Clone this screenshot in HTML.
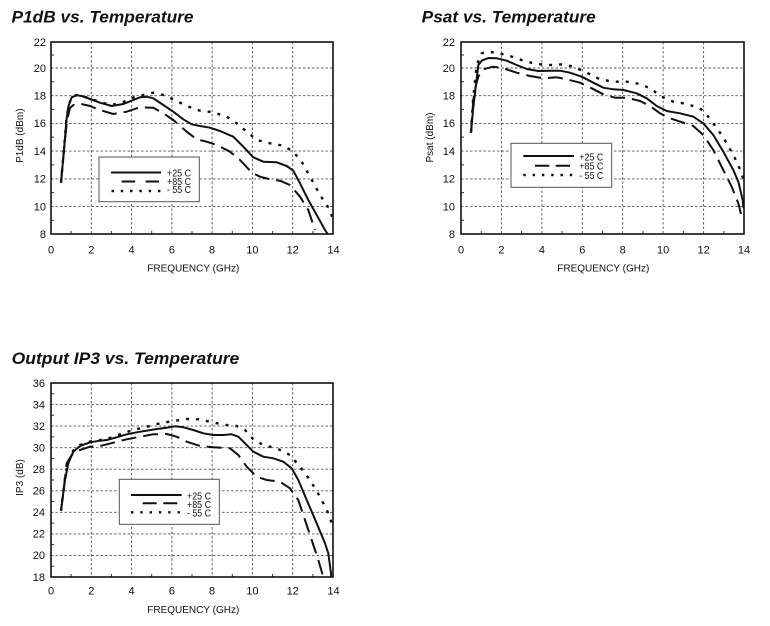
<!DOCTYPE html>
<html><head><meta charset="utf-8"><style>
html,body{margin:0;padding:0;background:#fff;}
svg{display:block;}
text{font-family:"Liberation Sans",Arial,sans-serif;fill:#111;}
.t{font-size:17px;font-weight:bold;font-style:italic;}
.tk{font-size:11px;}
.ax{font-size:10px;}
.lg{font-size:10.5px;}
.g{stroke:#555;stroke-width:0.9;stroke-dasharray:2.5 2;fill:none;}
.fr{stroke:#111;stroke-width:1.6;fill:none;}
.mt{stroke:#333;stroke-width:1;}
.s{fill:none;stroke:#111;stroke-width:2;stroke-linejoin:round;}
.d{fill:none;stroke:#111;stroke-width:2;stroke-dasharray:15 7;stroke-linejoin:round;}
.p{fill:none;stroke:#111;stroke-width:2.4;stroke-dasharray:3 7;}
.lb{fill:#fff;stroke:#555;stroke-width:1;}
</style></head><body>
<svg width="770" height="626" viewBox="0 0 770 626" xmlns="http://www.w3.org/2000/svg">
<rect width="770" height="626" fill="#fff"/>

<!-- ================= CHART 1 ================= -->
<text class="t" x="11.5" y="22.3" textLength="182" lengthAdjust="spacingAndGlyphs">P1dB vs. Temperature</text>
<g>
<line class="g" x1="91.3" y1="42" x2="91.3" y2="234"/>
<line class="g" x1="131.6" y1="42" x2="131.6" y2="234"/>
<line class="g" x1="171.9" y1="42" x2="171.9" y2="234"/>
<line class="g" x1="212.1" y1="42" x2="212.1" y2="234"/>
<line class="g" x1="252.4" y1="42" x2="252.4" y2="234"/>
<line class="g" x1="292.7" y1="42" x2="292.7" y2="234"/>
<line class="g" x1="51" y1="206.6" x2="333" y2="206.6"/>
<line class="g" x1="51" y1="178.9" x2="333" y2="178.9"/>
<line class="g" x1="51" y1="151.1" x2="333" y2="151.1"/>
<line class="g" x1="51" y1="123.4" x2="333" y2="123.4"/>
<line class="g" x1="51" y1="95.7" x2="333" y2="95.7"/>
<line class="g" x1="51" y1="68" x2="333" y2="68"/>
<path class="mt" d="M51 220.3h3M51 192.6h3M51 164.9h3M51 137.1h3M51 109.4h3M51 81.7h3M51 55h3
M71.1 234v-3M111.4 234v-3M151.7 234v-3M192 234v-3M232.3 234v-3M272.6 234v-3M312.9 234v-3"/>
<rect class="fr" x="51" y="42" width="282" height="192"/>
</g>
<g class="tk" text-anchor="end">
<text x="46" y="237.8">8</text><text x="46" y="210.4">10</text><text x="46" y="182.7">12</text><text x="46" y="154.9">14</text>
<text x="46" y="127.2">16</text><text x="46" y="99.5">18</text><text x="46" y="71.8">20</text><text x="46" y="45.8">22</text>
</g>
<g class="tk" text-anchor="middle">
<text x="51" y="253.5">0</text><text x="91.3" y="253.5">2</text><text x="131.6" y="253.5">4</text><text x="171.9" y="253.5">6</text>
<text x="212.1" y="253.5">8</text><text x="252.4" y="253.5">10</text><text x="292.7" y="253.5">12</text><text x="333.5" y="253.5">14</text>
</g>
<text class="ax" x="193.3" y="271.5" text-anchor="middle">FREQUENCY (GHz)</text>
<text class="ax" x="23" y="135.7" text-anchor="middle" transform="rotate(-90 23 135.7)">P1dB (dBm)</text>

<polyline class="p" points="61,182.7 64,148 66.5,118 69,104 72,96.5 77,95 82,96 90,98.5 100,102 111.7,105 123.3,102 133.3,97.5 143.3,95 153.3,92.7 163.3,95 173.3,99.3 186.7,106 200,110.7 213.3,112.3 226.7,116.7 236.7,123.3 246.7,131.7 256.7,140 270,143.3 283.3,145.7 293.3,151.7 301.7,161.7 310,176.7 320,195 330,210 333,220"/>
<polyline class="d" points="61,182.7 64,150 67,120 70,108 73.3,105 80,103.7 90,106 100,110 113.3,114 126.7,111.7 140,107.3 153.3,107.7 163.3,113.3 173.3,120 186.7,131.7 196.7,139.3 206.7,141.7 216.7,145 230,151.7 240,160 251.7,172.5 260,176.7 270,179.3 280,180.7 290,185 300,196.7 308.3,210 315,230"/>
<polyline class="s" points="61,182.7 64,150 66.5,120 68.3,106.7 71.7,97.3 76.7,95.3 81.7,96 90,99 100,102.7 111.7,106 123.3,104 133.3,100 140,97.3 146.7,96.7 153.3,98.3 163.3,105 173.3,111.7 183.3,119.3 191.7,124.3 200,126 210,127.7 220,131 233.3,136.7 243.3,146.7 253.3,157.3 263.3,161.7 276.7,162.3 286.7,166 293.3,170.7 300,183.3 308.3,200 316.7,215 325,230 327.7,234"/>

<rect class="lb" x="99" y="157" width="100.3" height="44.7"/>
<line class="s" x1="111" y1="172.5" x2="161" y2="172.5"/>
<line class="d" x1="121.7" y1="181.5" x2="159" y2="181.5" style="stroke-dasharray:13.5 10.5"/>
<line class="p" x1="111.5" y1="191" x2="161" y2="191" style="stroke-dasharray:2.4 6.9"/>
<g class="lg" text-anchor="end">
<text x="191" y="176.5" textLength="24" lengthAdjust="spacingAndGlyphs">+25 C</text>
<text x="191" y="184.8" textLength="24" lengthAdjust="spacingAndGlyphs">+85 C</text>
<text x="191" y="193.2" textLength="24" lengthAdjust="spacingAndGlyphs">- 55 C</text>
</g>

<!-- ================= CHART 2 ================= -->
<text class="t" x="421.7" y="22.3" textLength="174" lengthAdjust="spacingAndGlyphs">Psat vs. Temperature</text>
<g>
<line class="g" x1="501.4" y1="42" x2="501.4" y2="234"/>
<line class="g" x1="541.9" y1="42" x2="541.9" y2="234"/>
<line class="g" x1="582.3" y1="42" x2="582.3" y2="234"/>
<line class="g" x1="622.7" y1="42" x2="622.7" y2="234"/>
<line class="g" x1="663.1" y1="42" x2="663.1" y2="234"/>
<line class="g" x1="703.6" y1="42" x2="703.6" y2="234"/>
<line class="g" x1="461" y1="206.6" x2="744" y2="206.6"/>
<line class="g" x1="461" y1="178.9" x2="744" y2="178.9"/>
<line class="g" x1="461" y1="151.1" x2="744" y2="151.1"/>
<line class="g" x1="461" y1="123.4" x2="744" y2="123.4"/>
<line class="g" x1="461" y1="95.7" x2="744" y2="95.7"/>
<line class="g" x1="461" y1="68" x2="744" y2="68"/>
<path class="mt" d="M461 220.3h3M461 192.6h3M461 164.9h3M461 137.1h3M461 109.4h3M461 81.7h3M461 55h3
M481.2 234v-3M521.6 234v-3M562.1 234v-3M602.5 234v-3M642.9 234v-3M683.4 234v-3M723.8 234v-3"/>
<rect class="fr" x="461" y="42" width="283" height="192"/>
</g>
<g class="tk" text-anchor="end">
<text x="455" y="237.8">8</text><text x="455" y="210.4">10</text><text x="455" y="182.7">12</text><text x="455" y="154.9">14</text>
<text x="455" y="127.2">16</text><text x="455" y="99.5">18</text><text x="455" y="71.8">20</text><text x="455" y="45.8">22</text>
</g>
<g class="tk" text-anchor="middle">
<text x="461" y="253.5">0</text><text x="501.4" y="253.5">2</text><text x="541.9" y="253.5">4</text><text x="582.3" y="253.5">6</text>
<text x="622.7" y="253.5">8</text><text x="663.1" y="253.5">10</text><text x="703.6" y="253.5">12</text><text x="744" y="253.5">14</text>
</g>
<text class="ax" x="603.3" y="271.5" text-anchor="middle">FREQUENCY (GHz)</text>
<text class="ax" x="433" y="137.5" text-anchor="middle" transform="rotate(-90 433 137.5)">Psat (dBm)</text>

<polyline class="p" points="471,132.7 473,100 476.7,65 481.7,53.3 486.7,51.7 496.7,52.7 510,56 523.3,60.7 536.7,64 550,65 563.3,64.3 573.3,66.7 586.7,72.7 600,79.3 613.3,81.7 626.7,81.7 640,84 650,88.3 661.7,96.7 673.3,101.7 686.7,104 700,108.3 708.3,116.7 718.3,130 726.7,143.3 735,158.3 741.7,173.3 743.5,180"/>
<polyline class="d" points="471,132.7 473.3,100 476,85 478.3,76.7 483.3,69.3 493.3,66.7 503.3,68.3 516.7,72.7 530,76 543.3,78.3 556.7,77.3 566.7,79.3 580,82.7 591.7,88.3 603.3,94.3 615,97.7 626.7,97.7 640,101 650,106 660,113.3 670,118.3 683.3,122.7 693.3,126 703.3,135 713.3,150 723.3,170 731.7,186.7 738.3,203.3 741.7,216.7"/>
<polyline class="s" points="471,132.7 473,110 475,93.3 478.3,65 481.7,60.7 488.3,58 496.7,58.3 506.7,60.7 516.7,65 526.7,69 538.3,71 550,70.7 560,70.7 570,72.7 581.7,76.7 593.3,82.7 603.3,87.7 613.3,89.3 623.3,90 636.7,93.3 646.7,98.3 656.7,106 666.7,111 680,113.3 693.3,116.7 703.3,123.3 713.3,135 723.3,151.7 733.3,170 738.3,181.7 742.7,200 743.5,208"/>

<rect class="lb" x="511" y="143.3" width="100.7" height="44"/>
<line class="s" x1="523.3" y1="156" x2="574" y2="156"/>
<line class="d" x1="535" y1="165.7" x2="570.5" y2="165.7" style="stroke-dasharray:14.3 6.4"/>
<line class="p" x1="523.3" y1="175" x2="574" y2="175" style="stroke-dasharray:2.4 6.9"/>
<g class="lg" text-anchor="end">
<text x="603.3" y="160.3" textLength="24" lengthAdjust="spacingAndGlyphs">+25 C</text>
<text x="603.3" y="169.6" textLength="24" lengthAdjust="spacingAndGlyphs">+85 C</text>
<text x="603.3" y="179" textLength="24" lengthAdjust="spacingAndGlyphs">- 55 C</text>
</g>

<!-- ================= CHART 3 ================= -->
<text class="t" x="11.7" y="364" textLength="227.6" lengthAdjust="spacingAndGlyphs">Output IP3 vs. Temperature</text>
<g>
<line class="g" x1="91.3" y1="383" x2="91.3" y2="577"/>
<line class="g" x1="131.6" y1="383" x2="131.6" y2="577"/>
<line class="g" x1="171.9" y1="383" x2="171.9" y2="577"/>
<line class="g" x1="212.1" y1="383" x2="212.1" y2="577"/>
<line class="g" x1="252.4" y1="383" x2="252.4" y2="577"/>
<line class="g" x1="292.7" y1="383" x2="292.7" y2="577"/>
<line class="g" x1="51" y1="404.6" x2="333" y2="404.6"/>
<line class="g" x1="51" y1="426.1" x2="333" y2="426.1"/>
<line class="g" x1="51" y1="447.7" x2="333" y2="447.7"/>
<line class="g" x1="51" y1="469.2" x2="333" y2="469.2"/>
<line class="g" x1="51" y1="490.8" x2="333" y2="490.8"/>
<line class="g" x1="51" y1="512.3" x2="333" y2="512.3"/>
<line class="g" x1="51" y1="533.9" x2="333" y2="533.9"/>
<line class="g" x1="51" y1="555.4" x2="333" y2="555.4"/>
<path class="mt" d="M51 393.8h3M51 415.3h3M51 436.9h3M51 458.4h3M51 480h3M51 501.5h3M51 523.1h3M51 544.6h3M51 566.2h3
M71.1 577v-3M111.4 577v-3M151.7 577v-3M192 577v-3M232.3 577v-3M272.6 577v-3M312.9 577v-3"/>
<rect class="fr" x="51" y="383" width="282" height="194"/>
</g>
<g class="tk" text-anchor="end">
<text x="45" y="580.8">18</text><text x="45" y="559.2">20</text><text x="45" y="537.7">22</text><text x="45" y="516.1">24</text>
<text x="45" y="494.6">26</text><text x="45" y="473">28</text><text x="45" y="451.5">30</text><text x="45" y="429.9">32</text>
<text x="45" y="408.4">34</text><text x="45" y="386.8">36</text>
</g>
<g class="tk" text-anchor="middle">
<text x="51" y="594.5">0</text><text x="91.3" y="594.5">2</text><text x="131.6" y="594.5">4</text><text x="171.9" y="594.5">6</text>
<text x="212.1" y="594.5">8</text><text x="252.4" y="594.5">10</text><text x="292.7" y="594.5">12</text><text x="333.5" y="594.5">14</text>
</g>
<text class="ax" x="193.3" y="613" text-anchor="middle">FREQUENCY (GHz)</text>
<text class="ax" x="23" y="477.5" text-anchor="middle" transform="rotate(-90 23 477.5)">IP3 (dB)</text>

<polyline class="p" points="61,510.7 63,495 65,478 68.3,462 73.3,450.5 80,445 90,441.5 100,440 106.7,439 116.7,435.5 126.7,432 133.3,430 146.7,426.7 160,423.3 173.3,421 186.7,419 200,419.3 213.3,422.7 226.7,425 236.7,426 245,430 253.3,439.3 263.3,445 276.7,448.3 290,455 300,466.7 310,480 320,496.7 328.3,513.3 333,526.7"/>
<polyline class="d" points="61,510.7 63,495 66.7,463.3 71.7,455 80,450 90,446.7 100,446 113.3,442.7 126.7,439.3 140,436.7 153.3,434.3 166.7,434 176.7,436.7 186.7,441.7 200,446 213.3,447.3 230,448.3 238.3,455 246.7,466.7 256.7,476.7 266.7,480 280,481.7 290,488.3 298.3,500 305,520 311.7,540 318.3,560 322.7,575"/>
<polyline class="s" points="61,510.7 63,495 65,480 68.3,463.3 73.3,451.7 80,446 90,442.3 100,440.7 106.7,440 116.7,437.3 126.7,434.3 136.7,432.3 146.7,430.7 156.7,429 166.7,427.7 175,426.3 183.3,427.3 193.3,430 203.3,433.3 213.3,435 223.3,435 231.7,434.3 238.3,436.7 245,443.3 253.3,451.7 263.3,456.7 273.3,458.3 283.3,461.7 291.7,468.3 298.3,480 306.7,500 316.7,523.3 325,543.3 328.3,553.3 331,573.3 331.3,577"/>

<rect class="lb" x="119.3" y="479.3" width="100" height="45"/>
<line class="s" x1="131" y1="495" x2="181.7" y2="495"/>
<line class="d" x1="142.7" y1="503.3" x2="178.3" y2="503.3" style="stroke-dasharray:14 6.6"/>
<line class="p" x1="131" y1="512.3" x2="181.7" y2="512.3" style="stroke-dasharray:2.4 6.9"/>
<g class="lg" text-anchor="end">
<text x="211" y="499.3" textLength="24" lengthAdjust="spacingAndGlyphs">+25 C</text>
<text x="211" y="507.8" textLength="24" lengthAdjust="spacingAndGlyphs">+85 C</text>
<text x="211" y="516.5" textLength="24" lengthAdjust="spacingAndGlyphs">- 55 C</text>
</g>
</svg>
</body></html>
